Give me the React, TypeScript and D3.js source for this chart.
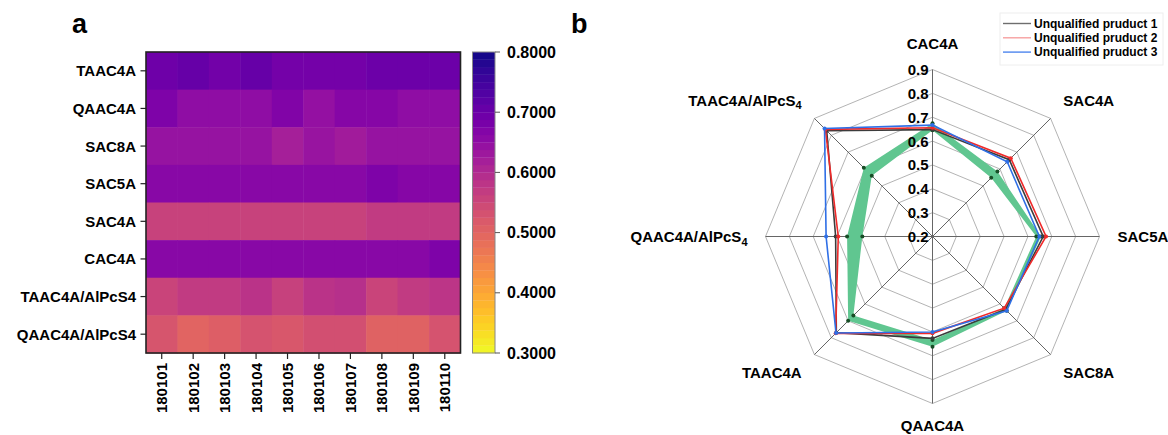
import React from "react";
import * as d3 from "d3";

// heatmap (a)
const rowLabels = ["TAAC4A", "QAAC4A", "SAC8A", "SAC5A", "SAC4A", "CAC4A", "TAAC4A/AlPcS4", "QAAC4A/AlPcS4"];
const batches = ["180101", "180102", "180103", "180104", "180105", "180106", "180107", "180108", "180109", "180110"];
const taac4a = [0.695, 0.705, 0.69, 0.705, 0.688, 0.688, 0.688, 0.698, 0.698, 0.698];
const qaac4a = [0.675, 0.65, 0.65, 0.65, 0.67, 0.645, 0.665, 0.665, 0.65, 0.65];
const sac8a = [0.64, 0.64, 0.64, 0.64, 0.62, 0.638, 0.625, 0.64, 0.64, 0.64];
const sac5a = [0.66, 0.66, 0.66, 0.66, 0.66, 0.66, 0.66, 0.675, 0.665, 0.665];
const sac4a = [0.558, 0.558, 0.558, 0.558, 0.558, 0.558, 0.558, 0.57, 0.57, 0.57];
const cac4a = [0.66, 0.66, 0.66, 0.66, 0.66, 0.66, 0.66, 0.66, 0.66, 0.675];
const taacAl = [0.555, 0.57, 0.57, 0.585, 0.56, 0.585, 0.59, 0.555, 0.57, 0.58];
const qaacAl = [0.525, 0.5, 0.51, 0.53, 0.522, 0.535, 0.535, 0.505, 0.505, 0.53];
const heatRows = [taac4a, qaac4a, sac8a, sac5a, sac4a, cac4a, taacAl, qaacAl];
const colorTicks = [0.3, 0.4, 0.5, 0.6, 0.7, 0.8];

// radar (b)
const radarAxes = ["CAC4A", "SAC4A", "SAC5A", "SAC8A", "QAAC4A", "TAAC4A", "QAAC4A/AlPcS4", "TAAC4A/AlPcS4"];
const radarTicks = [0.2, 0.3, 0.4, 0.5, 0.6, 0.7, 0.8, 0.9];
const qualifiedLow = [0.645, 0.548, 0.635, 0.625, 0.634, 0.669, 0.494, 0.56];
const qualifiedHigh = [0.675, 0.585, 0.655, 0.64, 0.662, 0.7, 0.558, 0.607];
const product1 = [0.648, 0.655, 0.664, 0.633, 0.627, 0.77, 0.606, 0.827];
const product2 = [0.656, 0.664, 0.676, 0.625, 0.606, 0.774, 0.595, 0.835];
const product3 = [0.667, 0.643, 0.648, 0.64, 0.6, 0.772, 0.646, 0.84];
const seriesNames = ["Unqualified pruduct 1", "Unqualified pruduct 2", "Unqualified pruduct 3"];

const font = "'Liberation Sans', Arial, sans-serif";

function Heatmap() {
  const x = d3.scaleBand().domain(batches).range([146, 460.5]);
  const y = d3.scaleBand().domain(rowLabels).range([52, 353]);
  const color = d3.scaleSequential(d3.interpolatePlasma).domain([0.8, 0.3]);
  const cb = d3.scaleLinear().domain([0.3, 0.8]).range([353, 52]);
  const steps = d3.range(40).map((i) => 0.3 + (i * 0.5) / 40);
  const step = 0.5 / 40;
  const fmt = d3.format(".4f");

  return (
    <g fontFamily={font} fontWeight="bold">
      <text x={72} y={33} fontSize={27}>a</text>
      {heatRows.map((row, r) =>
        row.map((v, c) => (
          <rect key={r + "-" + c} x={x(batches[c])} y={y(rowLabels[r])} width={x.bandwidth() + 0.5}
            height={y.bandwidth() + 0.5} fill={color(v)} />
        ))
      )}
      <rect x={146} y={52} width={314.5} height={301} fill="none" stroke="#222" strokeWidth={1.6} />
      {rowLabels.map((l) => {
        const cy = y(l) + y.bandwidth() / 2;
        return (
          <g key={l}>
            <line x1={140.5} x2={146} y1={cy} y2={cy} stroke="#222" strokeWidth={1.2} />
            <text x={136} y={cy} fontSize={15} textAnchor="end" dominantBaseline="central">{l}</text>
          </g>
        );
      })}
      {batches.map((b) => {
        const cx = x(b) + x.bandwidth() / 2;
        return (
          <g key={b}>
            <line x1={cx} x2={cx} y1={353} y2={359} stroke="#222" strokeWidth={1.2} />
            <text transform={`translate(${cx},363) rotate(-90)`} fontSize={15} textAnchor="end"
              dominantBaseline="central">{b}</text>
          </g>
        );
      })}
      {/* colour bar */}
      {steps.map((v) => (
        <rect key={v} x={472.5} y={cb(v + step)} width={22.5} height={cb(v) - cb(v + step) + 0.3}
          fill={color(v + step / 2)} />
      ))}
      <rect x={472.5} y={52} width={22.5} height={301} fill="none" stroke="#888" strokeWidth={1} />
      {colorTicks.map((t) => (
        <g key={t}>
          <line x1={495} x2={500} y1={cb(t)} y2={cb(t)} stroke="#555" />
          <text x={507} y={cb(t)} fontSize={16} dominantBaseline="central">{fmt(t)}</text>
        </g>
      ))}
    </g>
  );
}

function AxisLabel({ text, x, y, anchor }) {
  const sub = text.endsWith("AlPcS4");
  return (
    <text x={x} y={y} fontSize={15} textAnchor={anchor} dominantBaseline="central">
      {sub ? text.slice(0, -1) : text}
      {sub && <tspan fontSize={11} dy={5}>4</tspan>}
    </text>
  );
}

function Radar() {
  const cx = 932.5, cy = 236.5;
  const r = d3.scaleLinear().domain([0.2, 0.9]).range([0, 167]);
  const ang = (i) => (i * 2 * Math.PI) / radarAxes.length;
  const ring = d3.lineRadial().angle((d, i) => ang(i)).radius((d) => r(d)).curve(d3.curveLinearClosed);
  const pt = (v, i) => [r(v) * Math.sin(ang(i)), -r(v) * Math.cos(ang(i))];
  const series = [
    { vals: product1, color: "#3c3c3c" },
    { vals: product2, color: "#f02a2a" },
    { vals: product3, color: "#2f6fe6" },
  ];
  const legendColors = ["#6e6e6e", "#f6a0a0", "#4d86ee"];
  const band = ring(qualifiedHigh) + ring(qualifiedLow);

  return (
    <g fontFamily={font} fontWeight="bold">
      <text x={571} y={33} fontSize={27}>b</text>
      <g transform={`translate(${cx},${cy})`}>
        {radarTicks.slice(1).map((t) => (
          <path key={t} d={ring(radarAxes.map(() => t))} fill="none" stroke="#aaa" strokeWidth={0.9} />
        ))}
        {radarAxes.map((a, i) => {
          const [px, py] = pt(0.9, i);
          return <line key={a} x1={0} y1={0} x2={px} y2={py} stroke="#666" strokeWidth={1} />;
        })}
        <path d={band} fill="#60c690" fillRule="evenodd" />
        {[qualifiedLow, qualifiedHigh].map((arr, k) =>
          arr.map((v, i) => {
            const [px, py] = pt(v, i);
            return <circle key={k + "-" + i} cx={px} cy={py} r={2} fill="#174d26" />;
          })
        )}
        {series.map((s, k) => (
          <g key={k}>
            <path d={ring(s.vals)} fill="none" stroke={s.color} strokeWidth={1.6} />
            {s.vals.map((v, i) => {
              const [px, py] = pt(v, i);
              return <circle key={i} cx={px} cy={py} r={2} fill={s.color} />;
            })}
          </g>
        ))}
        {radarTicks.map((t) => (
          <text key={t} x={-4} y={-r(t)} fontSize={15} textAnchor="end" dominantBaseline="central">
            {t.toFixed(1)}
          </text>
        ))}
        {radarAxes.map((a, i) => {
          const s = Math.sin(ang(i)), c = Math.cos(ang(i));
          const anchor = s > 0.01 ? "start" : s < -0.01 ? "end" : "middle";
          // keep the bottom label inside the picture
          const ly = Math.min(-193 * c, 435 - cy - 10);
          return <AxisLabel key={a} text={a} x={185 * s} y={ly} anchor={anchor} />;
        })}
      </g>
      {/* legend */}
      <rect x={1000} y={13} width={163} height={52} fill="#fff" stroke="#eee" />
      {seriesNames.map((n, k) => (
        <g key={n} transform={`translate(1003,${23.5 + k * 14.3})`}>
          <line x1={0} x2={28} y1={0} y2={0} stroke={legendColors[k]} strokeWidth={1.4} />
          <text x={31} y={0} fontSize={12} dominantBaseline="central">{n}</text>
        </g>
      ))}
    </g>
  );
}

export default function App() {
  return (
    <svg width={1168} height={435} style={{ position: "absolute", left: 0, top: 0, background: "#fff" }}>
      <Heatmap />
      <Radar />
    </svg>
  );
}
